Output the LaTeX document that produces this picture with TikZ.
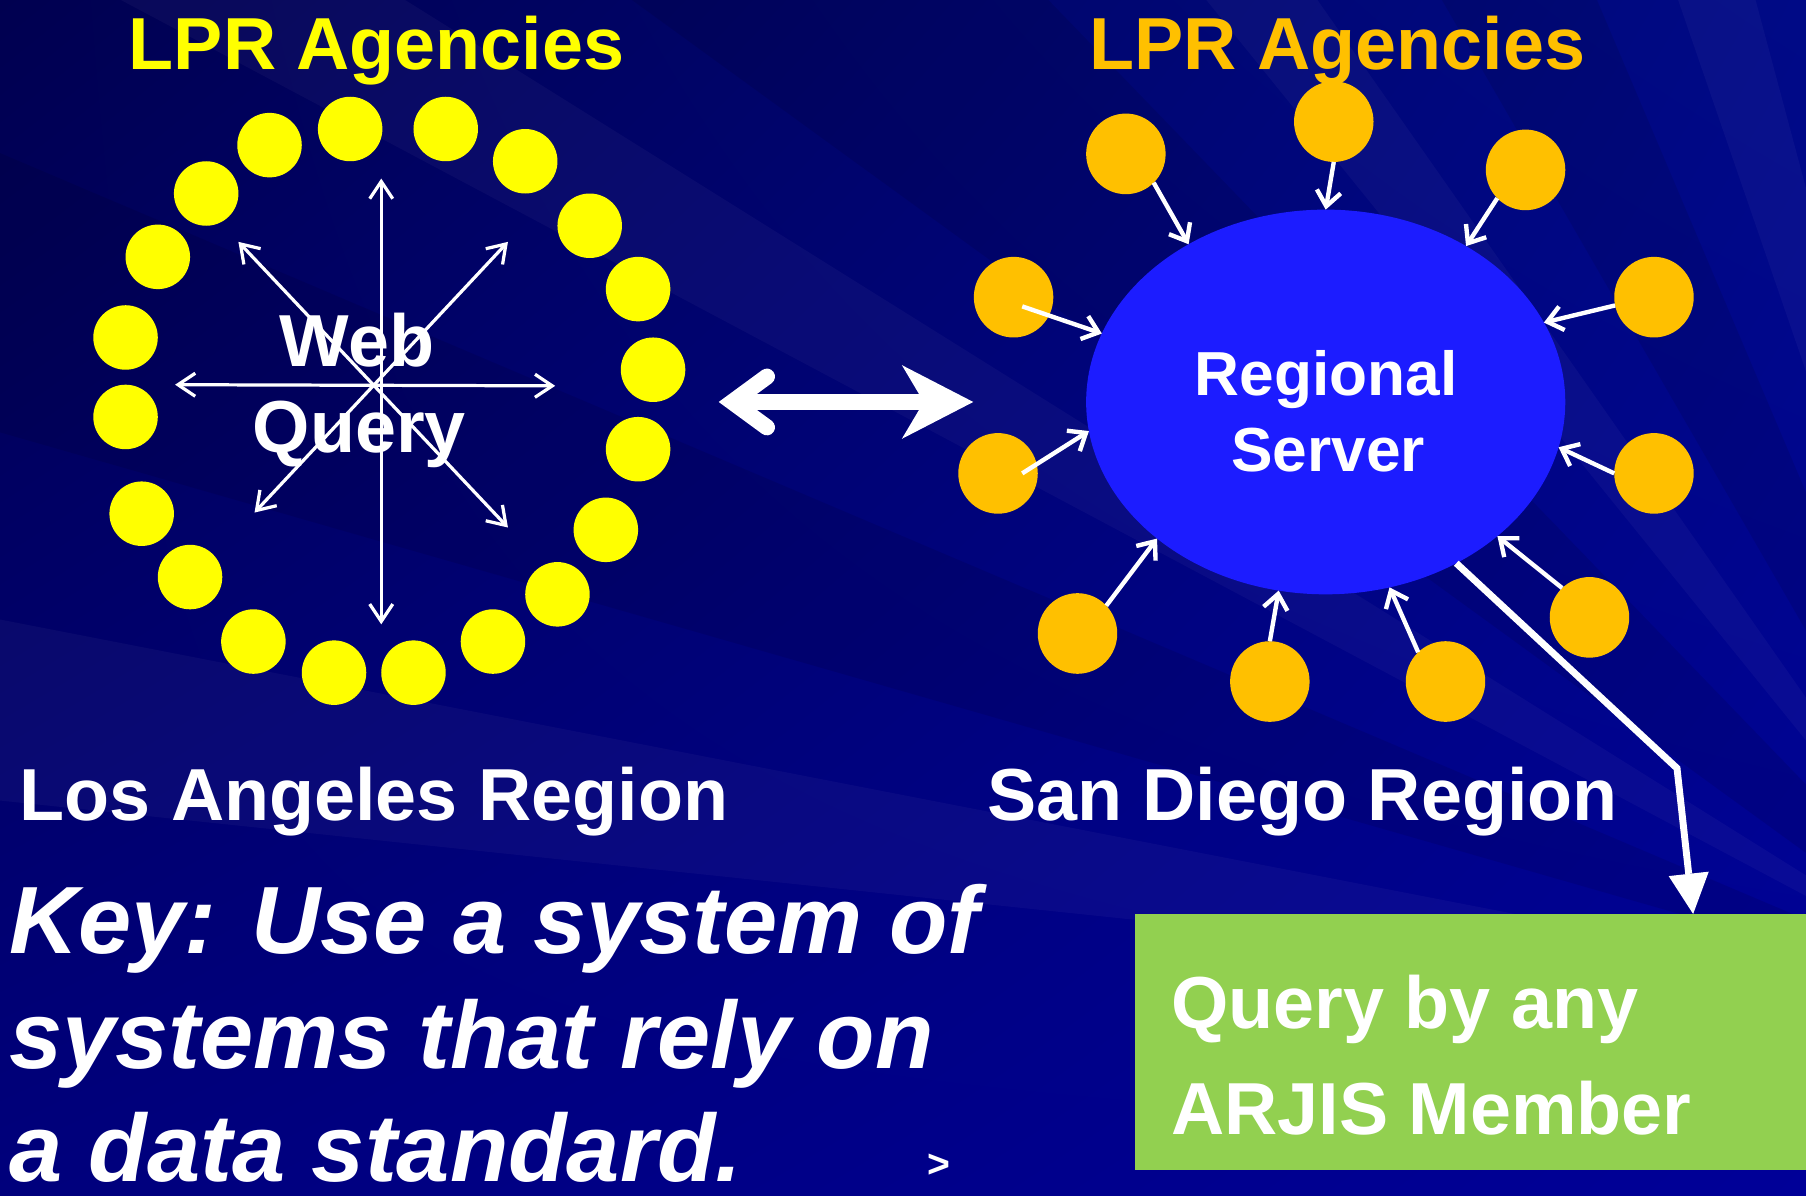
\documentclass[tikz,border=0pt]{standalone}
\usepackage{fontspec}
\setmainfont{Liberation Sans}
\usetikzlibrary{arrows.meta,shapes.geometric,calc,shadings}
\definecolor{bgTL}{HTML}{000050}
\definecolor{bgTR}{HTML}{000A86}
\definecolor{bgBL}{HTML}{00007C}
\definecolor{bgBR}{HTML}{000098}
\definecolor{dotY}{HTML}{FFFF00}
\definecolor{dotO}{HTML}{FFC000}
\definecolor{srvblue}{HTML}{1C1CFF}
\definecolor{boxgreen}{HTML}{92D050}
\tikzset{
  txt/.style={inner sep=0pt, outer sep=0pt, text=white, font=\bfseries\fontsize{64}{70}\selectfont},
  ydot/.style={circle, fill=dotY, minimum size=56pt, inner sep=0pt, outer sep=0pt},
  odot/.style={ellipse, fill=dotO, minimum width=69pt, minimum height=70pt, inner sep=0pt, outer sep=0pt},
  laarr/.style={draw=white, line width=2.8pt, {Straight Barb[length=15pt,width=20pt]}-{Straight Barb[length=15pt,width=20pt]}},
  sarr/.style={draw=white, line width=3.8pt, -{Straight Barb[length=13pt,width=21pt]}},
  bigarr/.style={draw=white, line width=14pt, {Straight Barb[length=30pt,width=44pt,line cap=round,line join=miter]}-{Stealth[length=62pt,width=64pt,inset=19pt,line width=0pt]}},
  boxarr/.style={draw=white, line width=6pt, line join=miter, -{Triangle[length=35pt,width=35pt,line width=0pt]}},
  ray/.style={fill=white, opacity=0.035},
  shadow/.style={fill=black, opacity=0.09}
}
\begin{document}
\begin{tikzpicture}[x=1pt,y=-1pt]
\useasboundingbox (0,0) rectangle (1568,1038);
% background
\shade[upper left=bgTL, upper right=bgTR, lower left=bgBL, lower right=bgBR] (0,0) rectangle (1568,1038);
\begin{scope}
\clip (0,0) rectangle (1568,1038);
\coordinate (O) at (1760,880);
\fill[ray] (O) -- ($(O)+(186:2600)$) -- ($(O)+(191:2600)$) -- cycle;
\fill[shadow] (O) -- ($(O)+(196:2600)$) -- ($(O)+(203:2600)$) -- cycle;
\fill[ray] (O) -- ($(O)+(208:2600)$) -- ($(O)+(212:2600)$) -- cycle;
\fill[shadow] (O) -- ($(O)+(216:2600)$) -- ($(O)+(226:2600)$) -- cycle;
\fill[ray] (O) -- ($(O)+(231:2600)$) -- ($(O)+(235:2600)$) -- cycle;
\fill[shadow] (O) -- ($(O)+(240:2600)$) -- ($(O)+(247:2600)$) -- cycle;
\fill[ray] (O) -- ($(O)+(251:2600)$) -- ($(O)+(255:2600)$) -- cycle;
\end{scope}

% ---------- Los Angeles side ----------
\node[txt, text=dotY, anchor=base] (lprL) at (327,60) {LPR Agencies};
\foreach \i/\x/\y in {1/234/126,2/304/112,3/387/112,4/456/140,5/512/196,6/554/251,7/567/321,8/554/390,9/526/460,10/484/516,11/428/557,12/359/584,13/290/584,14/220/557,15/165/501,16/123/446,17/109/362,18/109/293,19/137/223,20/179/168}
  \node[ydot] (y\i) at (\x,\y) {};
\coordinate (hub) at (329,334);
\coordinate (tN) at (331,155);
\coordinate (tS) at (331,542);
\coordinate (tW) at (152,334);
\coordinate (tE) at (482,335);
\coordinate (tNE) at (441,210);
\coordinate (tSW) at (221,445);
\coordinate (tNW) at (207,210);
\coordinate (tSE) at (441,458);
\draw[laarr] (tN) -- (tS);
\draw[laarr] (tW) -- (tE);
\draw[laarr] (tNE) -- (tSW);
\draw[laarr] (tNW) -- (tSE);
\node[txt, anchor=base] (web) at (310,318) {Web};
\node[txt, anchor=base] (query) at (312,393) {Query};
\node[txt, anchor=base west] (lareg) at (17,712) {Los Angeles Region};

% ---------- link ----------
\coordinate (laR) at (624,349);
\coordinate (sdL) at (845,349);
\draw[bigarr] (laR) -- (sdL);

% ---------- San Diego side ----------
\node[txt, text=dotO, anchor=base] (lprR) at (1161,60) {LPR Agencies};
\node[ellipse, fill=srvblue, minimum width=416pt, minimum height=334pt, inner sep=0pt, outer sep=0pt] (srv) at (1151,349) {};
\node[txt, font=\bfseries\fontsize{54}{60}\selectfont, anchor=base] (reg) at (1151.5,343) {Regional};
\node[txt, font=\bfseries\fontsize{54}{60}\selectfont, anchor=base] (serv) at (1153,409) {Server};
\node[odot] (d1) at (977.5,133.6) {};
\node[odot] (d2) at (1158,105.6) {};
\node[odot] (d3) at (1324.5,147.5) {};
\node[odot] (d4) at (880,258) {};
\node[odot] (d5) at (1436,258) {};
\node[odot] (d6) at (866.5,411) {};
\node[odot] (d7) at (1436,411) {};
\node[odot] (d8) at (935.5,550) {};
\node[odot] (d9) at (1102.5,591.7) {};
\node[odot] (d10) at (1255,591.7) {};
\node[odot] (d11) at (1380,536) {};
\draw[sarr] (d1.-46) -- (srv.131.7);
\draw[sarr] (d2.-90) -- (srv.90);
\draw[sarr] (d3.-135) -- (srv.48);
\draw[sarr] ([shift={(7.5,8)}]d4.center) -- (srv.163.2);
\draw[sarr] (d5.-168) -- (srv.20.5);
\draw[sarr] ([shift={(21,0)}]d6.center) -- (srv.187.8);
\draw[sarr] (d7.180) -- (srv.-11.4);
\draw[sarr] (d8.44.4) -- (srv.219.3);
\draw[sarr] (d9.90) -- (srv.256.1);
\draw[sarr] (d10.133.6) -- (srv.-71.4);
\draw[sarr] (d11.133.8) -- (srv.-38.5);
\node[txt, anchor=base west] (sdreg) at (857,712) {San Diego Region};

% ---------- query box ----------
\node[fill=boxgreen, minimum width=583pt, minimum height=222.5pt, inner sep=0pt, outer sep=0pt, anchor=north west] (box) at (985,793.5) {};
\node[txt, anchor=base west] (q1) at (1017,893) {Query by any};
\node[txt, anchor=base west] (q2) at (1017,985.4) {ARJIS Member};
\coordinate (bend) at (1456,667);
\draw[boxarr] (srv.-51) -- (bend) -- ([xshift=485pt]box.north west);

% ---------- key ----------
\node[txt, font=\bfseries\itshape\fontsize{83}{90}\selectfont, anchor=base west] (k1) at (8,827.7) {Key: Use a system of};
\node[txt, font=\bfseries\itshape\fontsize{83}{90}\selectfont, anchor=base west] (k2) at (8,927.5) {systems that rely on};
\node[txt, font=\bfseries\itshape\fontsize{83}{90}\selectfont, anchor=base west] (k3) at (8,1026) {a data standard.};
\node[txt, font=\bfseries\fontsize{34}{40}\selectfont] (gt) at (815,1012) {>};
\end{tikzpicture}
\end{document}
